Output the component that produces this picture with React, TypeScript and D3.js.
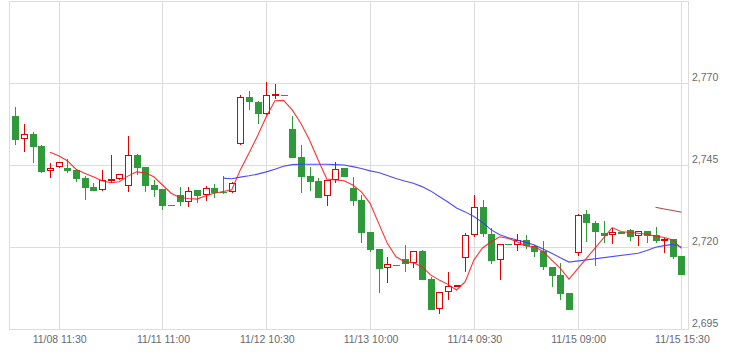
import React from 'react';
import * as d3 from 'd3';

const W = 735;
const H = 359;

const opens = [
  2760.0, 2752.9, 2754.5, 2750.9, 2743.2, 2744.4, 2744.2, 2743.6, 2741.1, 2738.4,
  2737.4, 2740.4, 2740.7, 2738.6, 2748.1, 2744.4, 2738.9, 2737.8, 2732.8, 2735.9,
  2733.7, 2737.4, 2735.9, 2738.1, 2737.0, 2736.8, 2751.4, 2765.7, 2764.2, 2760.5,
  2766.3, 2766.5, 2756.0, 2747.4, 2741.7, 2740.2, 2735.5, 2740.4, 2744.2, 2738.1,
  2734.4, 2724.7, 2719.5, 2713.6, 2714.5, 2716.3, 2715.3, 2718.9, 2710.3, 2701.2,
  2706.4, 2708.1, 2716.7, 2723.7, 2732.3, 2724.0, 2716.0, 2720.9, 2720.7, 2722.2,
  2720.5, 2718.9, 2714.0, 2711.6, 2706.1, 2718.2, 2730.2, 2727.4, 2724.4, 2723.7,
  2724.6, 2725.4, 2723.4, 2725.0, 2723.7, 2721.9, 2722.4, 2717.3,
];
const highs = [
  2762.7, 2757.5, 2755.1, 2751.2, 2745.6, 2746.0, 2746.8, 2743.8, 2741.8, 2739.7,
  2743.5, 2748.0, 2742.5, 2753.9, 2748.4, 2744.6, 2740.4, 2737.9, 2732.8, 2738.3,
  2738.3, 2737.5, 2738.7, 2739.4, 2741.7, 2739.8, 2766.4, 2767.7, 2764.5, 2770.3,
  2769.7, 2766.5, 2759.9, 2751.1, 2744.4, 2741.0, 2740.6, 2745.9, 2744.3, 2741.5,
  2735.9, 2724.8, 2719.6, 2717.1, 2714.5, 2720.6, 2718.9, 2719.2, 2711.0, 2706.4,
  2712.4, 2708.6, 2724.3, 2735.9, 2734.4, 2725.8, 2721.0, 2720.9, 2724.0, 2723.7,
  2720.6, 2721.9, 2714.1, 2715.3, 2706.2, 2730.1, 2731.3, 2728.1, 2728.1, 2726.0,
  2724.7, 2725.5, 2725.0, 2725.1, 2726.1, 2722.7, 2722.5, 2717.4,
];
const lows = [
  2751.1, 2749.0, 2745.6, 2742.7, 2741.0, 2744.3, 2742.7, 2740.0, 2734.4, 2737.1,
  2737.3, 2739.7, 2740.5, 2736.8, 2741.9, 2737.0, 2735.4, 2731.3, 2732.8, 2732.5,
  2732.4, 2733.4, 2734.1, 2734.9, 2736.4, 2736.7, 2751.3, 2761.9, 2757.6, 2760.4,
  2765.1, 2766.5, 2747.2, 2736.6, 2737.3, 2734.9, 2732.5, 2739.7, 2741.4, 2732.5,
  2721.2, 2718.5, 2706.0, 2709.0, 2714.5, 2712.4, 2713.6, 2710.0, 2700.9, 2699.6,
  2703.8, 2708.0, 2712.6, 2723.0, 2723.2, 2714.8, 2709.9, 2720.9, 2719.0, 2719.6,
  2717.0, 2713.1, 2708.0, 2703.8, 2700.9, 2717.3, 2721.5, 2714.3, 2721.2, 2720.9,
  2724.1, 2721.9, 2720.4, 2721.2, 2721.2, 2718.4, 2716.5, 2711.5,
];
const closes = [
  2752.8, 2754.5, 2750.7, 2743.0, 2744.1, 2745.9, 2743.4, 2740.9, 2738.2, 2737.2,
  2740.4, 2740.7, 2742.3, 2748.0, 2744.3, 2738.8, 2737.6, 2732.7, 2732.8, 2733.7,
  2737.3, 2735.7, 2738.0, 2736.6, 2736.6, 2739.7, 2765.7, 2764.2, 2760.5, 2766.3,
  2766.6, 2766.5, 2747.3, 2741.5, 2740.0, 2735.1, 2740.4, 2744.0, 2741.5, 2734.2,
  2724.4, 2719.3, 2713.5, 2714.8, 2714.5, 2715.0, 2718.8, 2710.1, 2701.0, 2706.3,
  2708.1, 2708.5, 2723.7, 2732.2, 2724.0, 2715.9, 2720.9, 2720.9, 2722.1, 2720.3,
  2718.7, 2714.1, 2711.3, 2705.9, 2701.0, 2730.0, 2727.3, 2724.6, 2723.5, 2724.6,
  2724.2, 2723.2, 2724.9, 2723.5, 2721.8, 2722.6, 2717.1, 2711.6,
];

const maShort: (number | null)[] = [
  null, null, null, null, 2749.0, 2747.9, 2746.4, 2743.8, 2742.6, 2741.5,
  2740.3, 2739.7, 2740.0, 2741.7, 2743.0, 2742.7, 2741.5, 2739.0, 2736.5, 2735.2,
  2734.9, 2734.7, 2735.7, 2736.5, 2737.0, 2737.5, 2743.6, 2748.7, 2754.0, 2759.8,
  2764.7, 2764.8, 2761.9, 2757.8, 2752.7, 2746.6, 2740.8, 2740.5, 2740.3, 2739.0,
  2736.9, 2733.4, 2727.3, 2721.2, 2717.1, 2715.6, 2715.3, 2714.1, 2711.6, 2710.0,
  2708.7, 2707.0, 2709.5, 2716.1, 2719.8, 2721.7, 2723.2, 2722.7, 2721.7, 2720.4,
  2720.2, 2718.7, 2716.1, 2713.6, 2710.3, null, null, null, null, 2726.0,
  2724.8, 2724.5, 2724.3, 2724.0, 2723.4, 2723.0, 2722.2, 2719.7,
];
const maMid: (number | null)[] = [
  null, null, null, null, null, null, null, null, null, null,
  null, null, null, null, null, null, null, null, null, null,
  null, null, null, null, 2741.1, 2740.9, 2741.4, 2741.8, 2742.3, 2743.0,
  2743.8, 2744.7, 2745.2, 2745.3, 2745.3, 2745.3, 2745.3, 2745.2, 2745.1, 2744.6,
  2744.0, 2743.3, 2742.8, 2741.9, 2741.0, 2740.2, 2739.5, 2738.5, 2737.2, 2735.5,
  2733.8, 2732.0, 2730.8, 2729.4, 2727.6, 2725.3, 2723.8, 2722.9, 2722.2, 2721.5,
  2720.7, 2719.5, 2718.2, 2716.8, 2715.5, null, null, null, null, null,
  null, null, 2718.2, 2719.0, 2720.0, 2720.5, 2720.9, 2720.1,
];
const maLong: (number | null)[] = [
  ...Array(74).fill(null),
  2732.2, 2731.7, 2731.2, 2730.7,
];

const tickIndex = [5, 17, 29, 41, 53, 65, 77];
const tickLabels = [
  '11/08 11:30', '11/11 11:00', '11/12 10:30', '11/13 10:00',
  '11/14 09:30', '11/15 09:00', '11/15 15:30',
];
const yTicks = [2695, 2720, 2745, 2770];

const UP = '#e00000';
const DOWN = '#2f9a3a';
const GRID = '#dcdcdc';
const TEXT = '#666a72';
const FONT = '"Liberation Sans", Arial, sans-serif';

export default function App() {
  const idx = d3.range(opens.length);
  const x = d3.scaleLinear().domain([0, opens.length - 1]).range([15.4, 681.45]);
  const y = d3.scaleLinear().domain([2695, 2795]).range([329.3, 1.3]);

  const left = 9.5;
  const right = 688.5;
  const top = 1.5;
  const bottom = Math.round(y(2695)) - 0.5 + 1;

  const mkLine = (arr: (number | null)[]) => {
    const pts = idx.filter((i) => arr[i] != null).map((i) => [x(i), y(arr[i] as number)] as [number, number]);
    return d3.line()(pts) || '';
  };

  return (
    <svg width={W} height={H} style={{ position: 'absolute', left: 0, top: 0, background: '#fff' }}>
      <rect x={0} y={0} width={W} height={H} fill="#fff" />
      {/* horizontal grid */}
      {yTicks.map((t) => {
        const yy = Math.round(y(t)) + 0.5;
        return <line key={'h' + t} x1={left} x2={right} y1={yy} y2={yy} stroke={GRID} strokeWidth={1} />;
      })}
      {/* vertical grid */}
      {tickIndex.map((ti) => {
        const xx = Math.round(x(ti)) + 0.5;
        return <line key={'v' + ti} x1={xx} x2={xx} y1={top} y2={bottom} stroke={GRID} strokeWidth={1} />;
      })}
      {/* border */}
      <rect x={left} y={top} width={right - left} height={bottom - top} fill="none" stroke={GRID} strokeWidth={1} />

      {/* candles */}
      {idx.map((i) => {
        const o = opens[i], c = closes[i], h = highs[i], l = lows[i];
        const up = c > o;
        const px = Math.round(x(i));
        const yT = Math.round(y(Math.max(o, c)));
        const yB = Math.round(y(Math.min(o, c)));
        const yH = Math.round(y(h));
        const yL = Math.round(y(l));
        const col = up ? UP : DOWN;
        if (up) {
          const hh = Math.max(1, yB - yT - 1);
          return (
            <g key={i}>
              {yH < yT && <line x1={px + 0.5} x2={px + 0.5} y1={yH} y2={yT} stroke={col} strokeWidth={1} />}
              {yL > yB && <line x1={px + 0.5} x2={px + 0.5} y1={yB} y2={yL} stroke={col} strokeWidth={1} />}
              <rect x={px - 2.5} y={yT + 0.5} width={6} height={hh} fill="#fff" stroke={col} strokeWidth={1} />
            </g>
          );
        }
        return (
          <g key={i}>
            {yL > yH && <line x1={px + 0.5} x2={px + 0.5} y1={yH} y2={yL} stroke={col} strokeWidth={1} />}
            <rect x={px - 3} y={yT} width={7} height={Math.max(1, yB - yT)} fill={col} />
          </g>
        );
      })}

      {/* moving averages */}
      <path d={mkLine(maMid)} fill="none" stroke="#3838ff" strokeOpacity={0.9} strokeWidth={1.1} />
      <path d={mkLine(maShort)} fill="none" stroke="#ff1a1a" strokeOpacity={0.9} strokeWidth={1.1} />
      <path d={mkLine(maLong)} fill="none" stroke="#b04a4a" strokeWidth={1.1} />

      {/* y labels */}
      {yTicks.map((t) => (
        <text key={'yl' + t} x={692} y={y(t) - 2.5} fontFamily={FONT} fontSize={10.5} fill={TEXT}>
          {d3.format(',')(t)}
        </text>
      ))}
      {/* x labels */}
      {tickIndex.map((ti, k) => (
        <text key={'xl' + ti} x={x(ti) + 1} y={342.5} fontFamily={FONT} fontSize={10.5} fill={TEXT} textAnchor="middle">
          {tickLabels[k]}
        </text>
      ))}
    </svg>
  );
}
